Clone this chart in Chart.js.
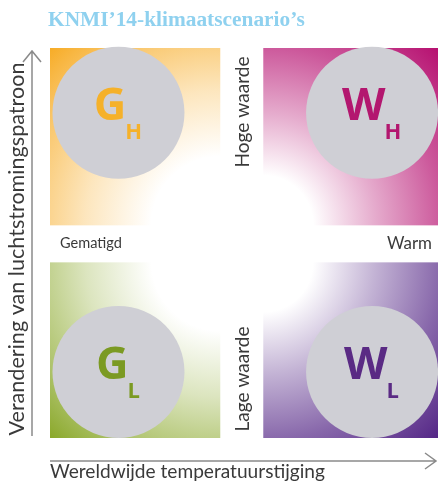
<!DOCTYPE html>
<html>
<head>
<meta charset="utf-8">
<script src="https://cdn.jsdelivr.net/npm/chart.js@4.4.1/dist/chart.umd.min.js"></script>
<style>
  html, body { margin: 0; padding: 0; background: #fff; }
  canvas { display: block; }
</style>
</head>
<body>
<canvas id="myChart" width="438" height="486"></canvas>
<script>
// scenario data
const scenarios = ['G_H', 'W_H', 'G_L', 'W_L'];
const letters = ['G', 'W', 'G', 'W'];
const subscripts = ['H', 'H', 'L', 'L'];
const temperatuur = [0, 1, 0, 1];     // 0 = gematigd, 1 = warm
const luchtstroming = [1, 1, 0, 0];   // 0 = lage waarde, 1 = hoge waarde
const xTicks = ['Gematigd', 'Warm'];
const yTicks = ['Lage waarde', 'Hoge waarde'];
const title = 'KNMI\u201914-klimaatscenario\u2019s';
const xTitle = 'Wereldwijde temperatuurstijging';
const yTitle = 'Verandering van luchtstromingspatroon';

// colours per scenario
const quadColors = ['247,172,38', '182,16,112', '138,168,42', '84,38,134'];
const letterColors = ['#f5b12a', '#b3176f', '#7b9a22', '#5a2a84'];

const fitFont = (ctx, text, weight, family, width) => {
  ctx.font = `${weight} 20px ${family}`;
  const size = 20 * width / ctx.measureText(text).width;
  return `${weight} ${size.toFixed(2)}px ${family}`;
}

const diagramPlugin = {
  id: 'diagram',
  beforeDraw(chart) {
    const ctx = chart.ctx;
    ctx.save();
    ctx.fillStyle = '#fff';
    ctx.fillRect(0, 0, chart.width, chart.height);
    ctx.restore();
  },
  beforeDatasetsDraw(chart) {
    const ctx = chart.ctx;
    const { left, right, top, bottom } = chart.chartArea;
    const x = chart.scales.x;
    const y = chart.scales.y;
    const mx = x.getPixelForValue(0.5);
    const my = y.getPixelForValue(0.5);
    ctx.save();
    scenarios.forEach((s, i) => {
      const warm = temperatuur[i] === 1;
      const high = luchtstroming[i] === 1;
      const x0 = warm ? mx + 18 : left;
      const x1 = warm ? right : mx - 25;
      const y0 = high ? top : my + 20;
      const y1 = high ? my - 17 : bottom;
      const ix = warm ? x0 : x1;
      const iy = high ? y1 : y0;
      const ox = warm ? x1 : x0;
      const oy = high ? y0 : y1;
      const R = Math.hypot(ox - ix, oy - iy);
      const g = ctx.createRadialGradient(ix, iy, 0, ix, iy, R);
      const c = quadColors[i];
      if (warm) {
        g.addColorStop(0, `rgba(${c},0)`);
        g.addColorStop(0.2, `rgba(${c},0)`);
        g.addColorStop(0.45, `rgba(${c},0.35)`);
        g.addColorStop(0.72, `rgba(${c},0.7)`);
        g.addColorStop(1, `rgba(${c},1)`);
      } else {
        g.addColorStop(0, `rgba(${c},0)`);
        g.addColorStop(0.28, `rgba(${c},0)`);
        g.addColorStop(0.55, `rgba(${c},0.3)`);
        g.addColorStop(0.82, `rgba(${c},0.7)`);
        g.addColorStop(1, `rgba(${c},1)`);
      }
      ctx.fillStyle = g;
      ctx.fillRect(x0, y0, x1 - x0, y1 - y0);
    });
    ctx.restore();
  },
  afterDatasetsDraw(chart) {
    const ctx = chart.ctx;
    const { left, right, top, bottom } = chart.chartArea;
    const x = chart.scales.x;
    const y = chart.scales.y;
    const mx = x.getPixelForValue(0.5);
    const my = y.getPixelForValue(0.5);
    ctx.save();

    // scenario letters
    scenarios.forEach((s, i) => {
      const cx = x.getPixelForValue(temperatuur[i]);
      const cy = y.getPixelForValue(luchtstroming[i]);
      ctx.fillStyle = letterColors[i];
      ctx.textBaseline = 'alphabetic';
      ctx.textAlign = 'left';
      const mainFont = 'bold 45px "Open Sans"';
      const subFont = 'bold 22px "Open Sans"';
      ctx.font = mainFont;
      const wMain = ctx.measureText(letters[i]).width;
      ctx.font = subFont;
      const wSub = ctx.measureText(subscripts[i]).width;
      const total = wMain + wSub;
      const capMain = 33, drop = 19;
      const h = capMain + drop;
      const sx = cx - total / 2;
      const base = cy - h / 2 + capMain;
      ctx.font = mainFont;
      ctx.fillText(letters[i], sx, base);
      ctx.font = subFont;
      ctx.fillText(subscripts[i], sx + wMain - 1, base + drop);
    });

    // title
    ctx.fillStyle = '#8fd1ef';
    ctx.font = fitFont(ctx, title, 'bold', '"Liberation Serif"', 257);
    ctx.textAlign = 'left';
    ctx.textBaseline = 'alphabetic';
    ctx.fillText(title, 48, 26);

    // x tick labels
    ctx.fillStyle = '#3a3a3a';
    ctx.textBaseline = 'middle';
    ctx.font = fitFont(ctx, xTicks[0], 'normal', 'Lato', 62);
    ctx.textAlign = 'left';
    ctx.fillText(xTicks[0], 60, my + 1);
    ctx.font = fitFont(ctx, xTicks[1], 'normal', 'Lato', 45);
    ctx.textAlign = 'right';
    ctx.fillText(xTicks[1], right - 6, my + 1);

    // y tick labels (vertical)
    const vLabel = (text, cy, len) => {
      ctx.save();
      ctx.translate(mx - 2, cy);
      ctx.rotate(-Math.PI / 2);
      ctx.font = fitFont(ctx, text, 'normal', 'Lato', len);
      ctx.textAlign = 'center';
      ctx.textBaseline = 'middle';
      ctx.fillText(text, 0, 0);
      ctx.restore();
    }
    vLabel(yTicks[1], 112, 111);
    vLabel(yTicks[0], 379, 105);

    // axes arrows
    ctx.strokeStyle = '#8a8a8a';
    ctx.lineWidth = 1.5;
    ctx.beginPath();
    ctx.moveTo(32, bottom - 2);
    ctx.lineTo(32, top + 3);
    ctx.moveTo(23, top + 14);
    ctx.lineTo(32, top + 3);
    ctx.lineTo(41, top + 14);
    ctx.moveTo(left, bottom + 23);
    ctx.lineTo(right - 2, bottom + 23);
    ctx.moveTo(right - 13, bottom + 15);
    ctx.lineTo(right - 2, bottom + 23);
    ctx.lineTo(right - 13, bottom + 31);
    ctx.stroke();

    // axis titles
    ctx.fillStyle = '#3a3a3a';
    ctx.font = fitFont(ctx, xTitle, 'normal', 'Lato', 275);
    ctx.textAlign = 'left';
    ctx.textBaseline = 'alphabetic';
    ctx.fillText(xTitle, 50, 478);

    ctx.save();
    ctx.translate(17, 249);
    ctx.rotate(-Math.PI / 2);
    ctx.font = fitFont(ctx, yTitle, 'normal', 'Lato', 373);
    ctx.textAlign = 'center';
    ctx.textBaseline = 'middle';
    ctx.fillText(yTitle, 0, 0);
    ctx.restore();

    ctx.restore();
  }
};

const ctx = document.querySelector('#myChart').getContext('2d');
const chart = new Chart(ctx, {
  type: 'scatter',
  data: {
    labels: scenarios,
    datasets: [
      {
        label: 'KNMI\u201914-scenario\u2019s',
        data: scenarios.map((s, i) => ({ x: temperatuur[i], y: luchtstroming[i] })),
        backgroundColor: '#cfcfd5',
        borderWidth: 0,
        pointRadius: 66,
        pointHoverRadius: 66,
        clip: false
      }
    ]
  },
  options: {
    responsive: false,
    animation: false,
    events: [],
    layout: { autoPadding: false, padding: { left: 50, top: 48, right: 0, bottom: 48 } },
    scales: {
      x: { type: 'linear', min: -0.27, max: 1.26, display: false },
      y: { type: 'linear', min: -0.255, max: 1.25, display: false }
    },
    plugins: {
      legend: { display: false },
      tooltip: { enabled: false }
    }
  },
  plugins: [diagramPlugin]
});
</script>
</body>
</html>
